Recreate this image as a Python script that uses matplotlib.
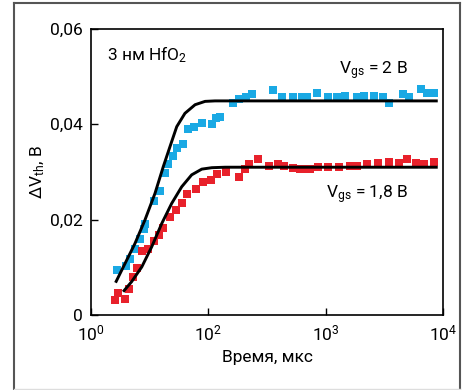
import matplotlib.pyplot as plt
from matplotlib.lines import Line2D

plt.rcParams['font.family'] = ['Roboto', 'DejaVu Sans']
plt.rcParams['mathtext.fontset'] = 'custom'
plt.rcParams['mathtext.rm'] = 'Roboto'

# measured points, V_gs = 2 V (blue) and 1.8 V (red)
t_blue = [16.7, 19.9, 21.5, 23.7, 26.2, 28.3, 28.9, 34.4, 38.7, 42.7, 45.3, 50.0, 54.1,
          60.8, 67.1, 75.5, 88.4, 107.6, 116.3, 125.8, 162, 183, 210, 236, 356, 425, 527,
          630, 694, 845, 1047, 1250, 1463, 1854, 2125, 2587, 3084, 3467, 4571, 5140, 6500,
          7311, 8396]
v_blue = [0.0094, 0.0103, 0.0117, 0.0138, 0.0159, 0.0180, 0.0191, 0.0239, 0.0260, 0.0298,
          0.0317, 0.0334, 0.0350, 0.0359, 0.0390, 0.0394, 0.0403, 0.0401, 0.0413, 0.0415,
          0.0445, 0.0453, 0.0457, 0.0464, 0.0472, 0.0457, 0.0457, 0.0457, 0.0457, 0.0466,
          0.0457, 0.0457, 0.0459, 0.0457, 0.0459, 0.0459, 0.0457, 0.0445, 0.0464, 0.0457,
          0.0474, 0.0466, 0.0466]

t_red = [16.0, 17.1, 19.5, 21.2, 22.9, 24.5, 27.1, 30.4, 34.4, 38.0, 41.3, 47.1, 53.0, 59.7,
         66.2, 78.5, 90.6, 104.8, 118, 141.6, 182.7, 205.6, 222.3, 263.6, 329, 390, 445,
         530, 605, 667, 736, 866, 1055, 1309, 1614, 1841, 2240, 2813, 3427, 4247, 4970,
         5902, 6902, 8396]
v_red = [0.0031, 0.0046, 0.0034, 0.0055, 0.0080, 0.0099, 0.0134, 0.0138, 0.0155, 0.0168,
         0.0183, 0.0206, 0.0220, 0.0235, 0.0254, 0.0264, 0.0279, 0.0283, 0.0296, 0.0300,
         0.0290, 0.0306, 0.0317, 0.0327, 0.0313, 0.0317, 0.0313, 0.0308, 0.0306, 0.0306,
         0.0306, 0.0310, 0.0310, 0.0310, 0.0313, 0.0313, 0.0317, 0.0319, 0.0321, 0.0319,
         0.0327, 0.0319, 0.0317, 0.0321]

# model curves
t_fit_blue = [16.2, 19.5, 23.7, 28.8, 35.1, 41.3, 47.1, 53.8, 63.2, 77.1, 93.8, 114, 9000]
v_fit_blue = [0.0068, 0.0108, 0.0150, 0.0199, 0.0255, 0.0311, 0.0353, 0.0395, 0.0423,
              0.0441, 0.0448, 0.0449, 0.0449]
t_fit_red = [18.8, 22.2, 27.1, 32.9, 40.1, 48.7, 59.3, 72.1, 87.9, 107, 139, 9000]
v_fit_red = [0.0049, 0.0070, 0.0101, 0.0143, 0.0192, 0.0234, 0.0269, 0.0294, 0.0306,
             0.0309, 0.0310, 0.0310]

xticks = [10, 100, 1000, 10000]
xtick_labels = [r'$\mathregular{10^0}$', r'$\mathregular{10^2}$',
                r'$\mathregular{10^3}$', r'$\mathregular{10^4}$']
yticks = [0, 0.02, 0.04, 0.06]
ytick_labels = ['0', '0,02', '0,04', '0,06']

fig = plt.figure(figsize=(4.64, 3.9), dpi=100)
ax = fig.add_axes([0.196, 0.192, 0.759, 0.734])

ax.plot(t_blue, v_blue, 's', color='#1aa9e4', markersize=5.6, markeredgewidth=0)
ax.plot(t_red, v_red, 's', color='#e8212b', markersize=5.6, markeredgewidth=0)
ax.plot(t_fit_blue, v_fit_blue, color='black', lw=2.1, solid_capstyle='butt')
ax.plot(t_fit_red, v_fit_red, color='black', lw=2.1, solid_capstyle='butt')

ax.set_xscale('log')
ax.set_xlim(10, 10000)
ax.set_ylim(0, 0.06)
ax.set_xticks(xticks)
ax.set_xticklabels(xtick_labels, fontsize=12.5)
ax.minorticks_off()
ax.set_yticks(yticks)
ax.set_yticklabels(ytick_labels, fontsize=12.5)
ax.tick_params(direction='in', length=5, width=1, pad=6)
for s in ax.spines.values():
    s.set_linewidth(1.2)

ax.set_xlabel('Время, мкс', fontsize=12.5, labelpad=5)
ax.set_ylabel(r'$\mathregular{\Delta V_{th}}$, В', fontsize=12.5, labelpad=2)

ax.text(0.045, 0.91, r'3 нм HfO$\mathregular{_2}$', transform=ax.transAxes, fontsize=12.5,
        va='center', ha='left')
ax.text(0.9, 0.855, r'$\mathregular{V_{gs}}$ = 2 В', transform=ax.transAxes, fontsize=12.5,
        va='center', ha='right')
ax.text(0.9, 0.42, r'$\mathregular{V_{gs}}$ = 1,8 В', transform=ax.transAxes, fontsize=12.5,
        va='center', ha='right')

# outer frame
fc = '#555555'
fig.add_artist(Line2D([14 / 464, 14 / 464], [0, 387 / 390], color=fc, lw=1.5))
fig.add_artist(Line2D([460 / 464, 460 / 464], [0, 387 / 390], color=fc, lw=1.5))
fig.add_artist(Line2D([14 / 464, 460 / 464], [387 / 390, 387 / 390], color=fc, lw=1.5))
fig.add_artist(Line2D([14 / 464, 460 / 464], [1.5 / 390, 1.5 / 390], color='#dddddd', lw=1))

fig.savefig('out.png', dpi=100)
